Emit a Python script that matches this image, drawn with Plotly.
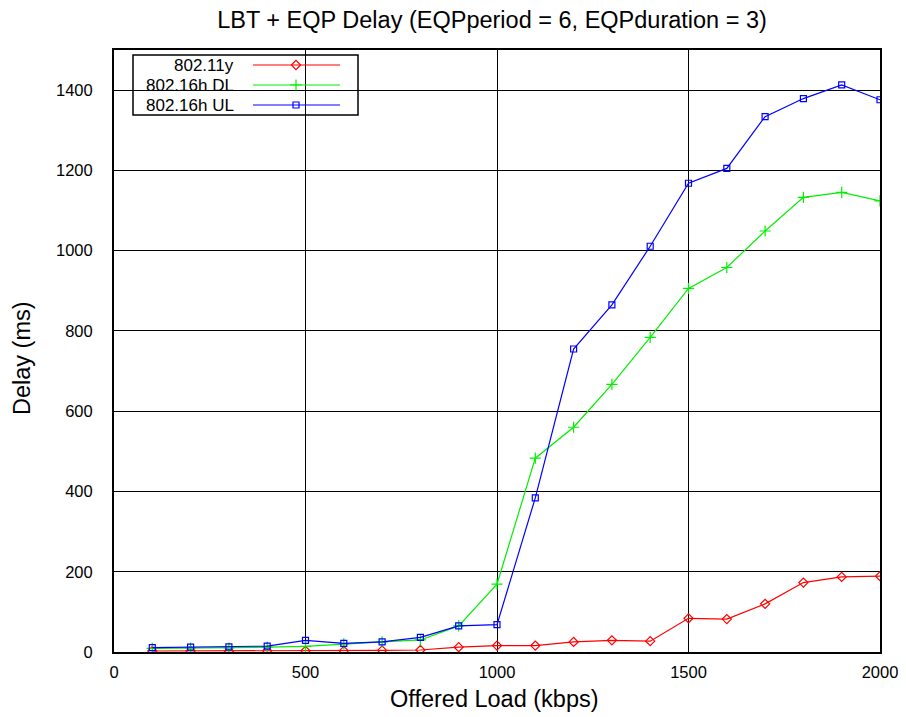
import plotly.graph_objects as go

load = [100, 200, 300, 400, 500, 600, 700, 800, 900, 1000,
        1100, 1200, 1300, 1400, 1500, 1600, 1700, 1800, 1900, 2000]
d_11y = [2.5, 2.5, 2.5, 3, 3, 3, 4, 5, 12, 16,
         16, 25, 29, 27, 84, 82, 120, 173, 187, 189]
d_16h_dl = [9, 9.5, 10, 12, 14, 20, 25, 30, 65, 169,
            483, 560, 667, 784, 906, 958, 1049, 1133, 1145, 1124]
d_16h_ul = [11, 12, 13, 14.7, 29, 21.6, 25, 36.5, 65, 68,
            384, 755, 865, 1011, 1168, 1205, 1334, 1379, 1413, 1376]
x_ticks = [0, 500, 1000, 1500, 2000]
y_ticks = [0, 200, 400, 600, 800, 1000, 1200, 1400]

series = [
    ("802.11y", d_11y, "#ff0000", "diamond-open", 7),
    ("802.16h DL", d_16h_dl, "#00ee00", "cross-thin-open", 8),
    ("802.16h UL", d_16h_ul, "#0000ff", "square-open", 6),
]

fig = go.Figure()
for name, ys, col, sym, sz in series:
    fig.add_trace(go.Scatter(
        x=load, y=ys, mode="lines+markers", name=name,
        line=dict(color=col, width=1.2),
        marker=dict(symbol=sym, size=sz, color=col, line=dict(color=col, width=1.2)),
        showlegend=False))

# page body has an 8px margin; figure sized to end at the viewport edge
OFF = 8
W, H = 906 - OFF, 717 - OFF
font = "Liberation Sans, Arial, sans-serif"
fig.update_layout(
    width=W, height=H,
    margin=dict(l=114 - OFF, r=W - (880 - OFF), t=50 - OFF, b=H - (652 - OFF)),
    paper_bgcolor="white", plot_bgcolor="white",
    font=dict(family=font, color="black", size=16.5),
    title=dict(text="LBT + EQP Delay (EQPperiod = 6, EQPduration = 3)",
               x=(492 - OFF) / W, xanchor="center", y=1 - (20 - OFF) / H, yanchor="middle",
               font=dict(size=23.5)),
    xaxis=dict(range=[0, 2000], tickvals=x_ticks, automargin=False,
               showgrid=True, gridcolor="black", gridwidth=1,
               showline=True, linecolor="black", linewidth=2, mirror=True,
               ticks="", ticklabelstandoff=4, zeroline=False),
    yaxis=dict(range=[0, 1500], tickvals=y_ticks, automargin=False,
               showgrid=True, gridcolor="black", gridwidth=1,
               showline=True, linecolor="black", linewidth=2, mirror=True,
               ticks="", ticklabelstandoff=16, zeroline=False),
)

# screen-pixel helpers relative to plot area
px0, pw, py0, ph = 114, 766, 50, 602
def fx(x):
    return (x - px0) / pw
def fy(y):
    return (py0 + ph - y) / ph

# axis titles
fig.add_annotation(xref="paper", yref="paper", x=fx(494.5), y=fy(698.5),
                   text="Offered Load (kbps)", showarrow=False,
                   xanchor="center", yanchor="middle", font=dict(size=23.5))
fig.add_annotation(xref="paper", yref="paper", x=fx(22), y=fy(358),
                   text="Delay (ms)", showarrow=False, textangle=-90,
                   xanchor="center", yanchor="middle", font=dict(size=23.5))

# custom gnuplot-style legend (text left, sample right)
fig.add_shape(type="rect", xref="paper", yref="paper",
              x0=fx(133), x1=fx(358), y0=fy(115), y1=fy(55),
              line=dict(color="black", width=1.5), fillcolor="white", layer="between")
rows = [65, 85, 105]
for (name, ys, col, sym, sz), ry in zip(series, rows):
    fig.add_annotation(xref="paper", yref="paper", x=fx(236), y=fy(ry),
                       text=name, showarrow=False, xanchor="right", yanchor="middle",
                       font=dict(size=17))
    fig.add_shape(type="line", xref="paper", yref="paper",
                  x0=fx(253), x1=fx(340), y0=fy(ry), y1=fy(ry),
                  line=dict(color=col, width=1.2), layer="above")
    fig.add_trace(go.Scatter(x=[fx(296)], y=[fy(ry)], xaxis="x2", yaxis="y2",
                             mode="markers", showlegend=False, hoverinfo="skip",
                             marker=dict(symbol=sym, size=sz, color=col,
                                         line=dict(color=col, width=1.2))))

fig.update_layout(
    xaxis2=dict(range=[0, 1], visible=False, overlaying="x", anchor="y2"),
    yaxis2=dict(range=[0, 1], visible=False, overlaying="y", anchor="x2"),
)

fig.write_html("out.html")
